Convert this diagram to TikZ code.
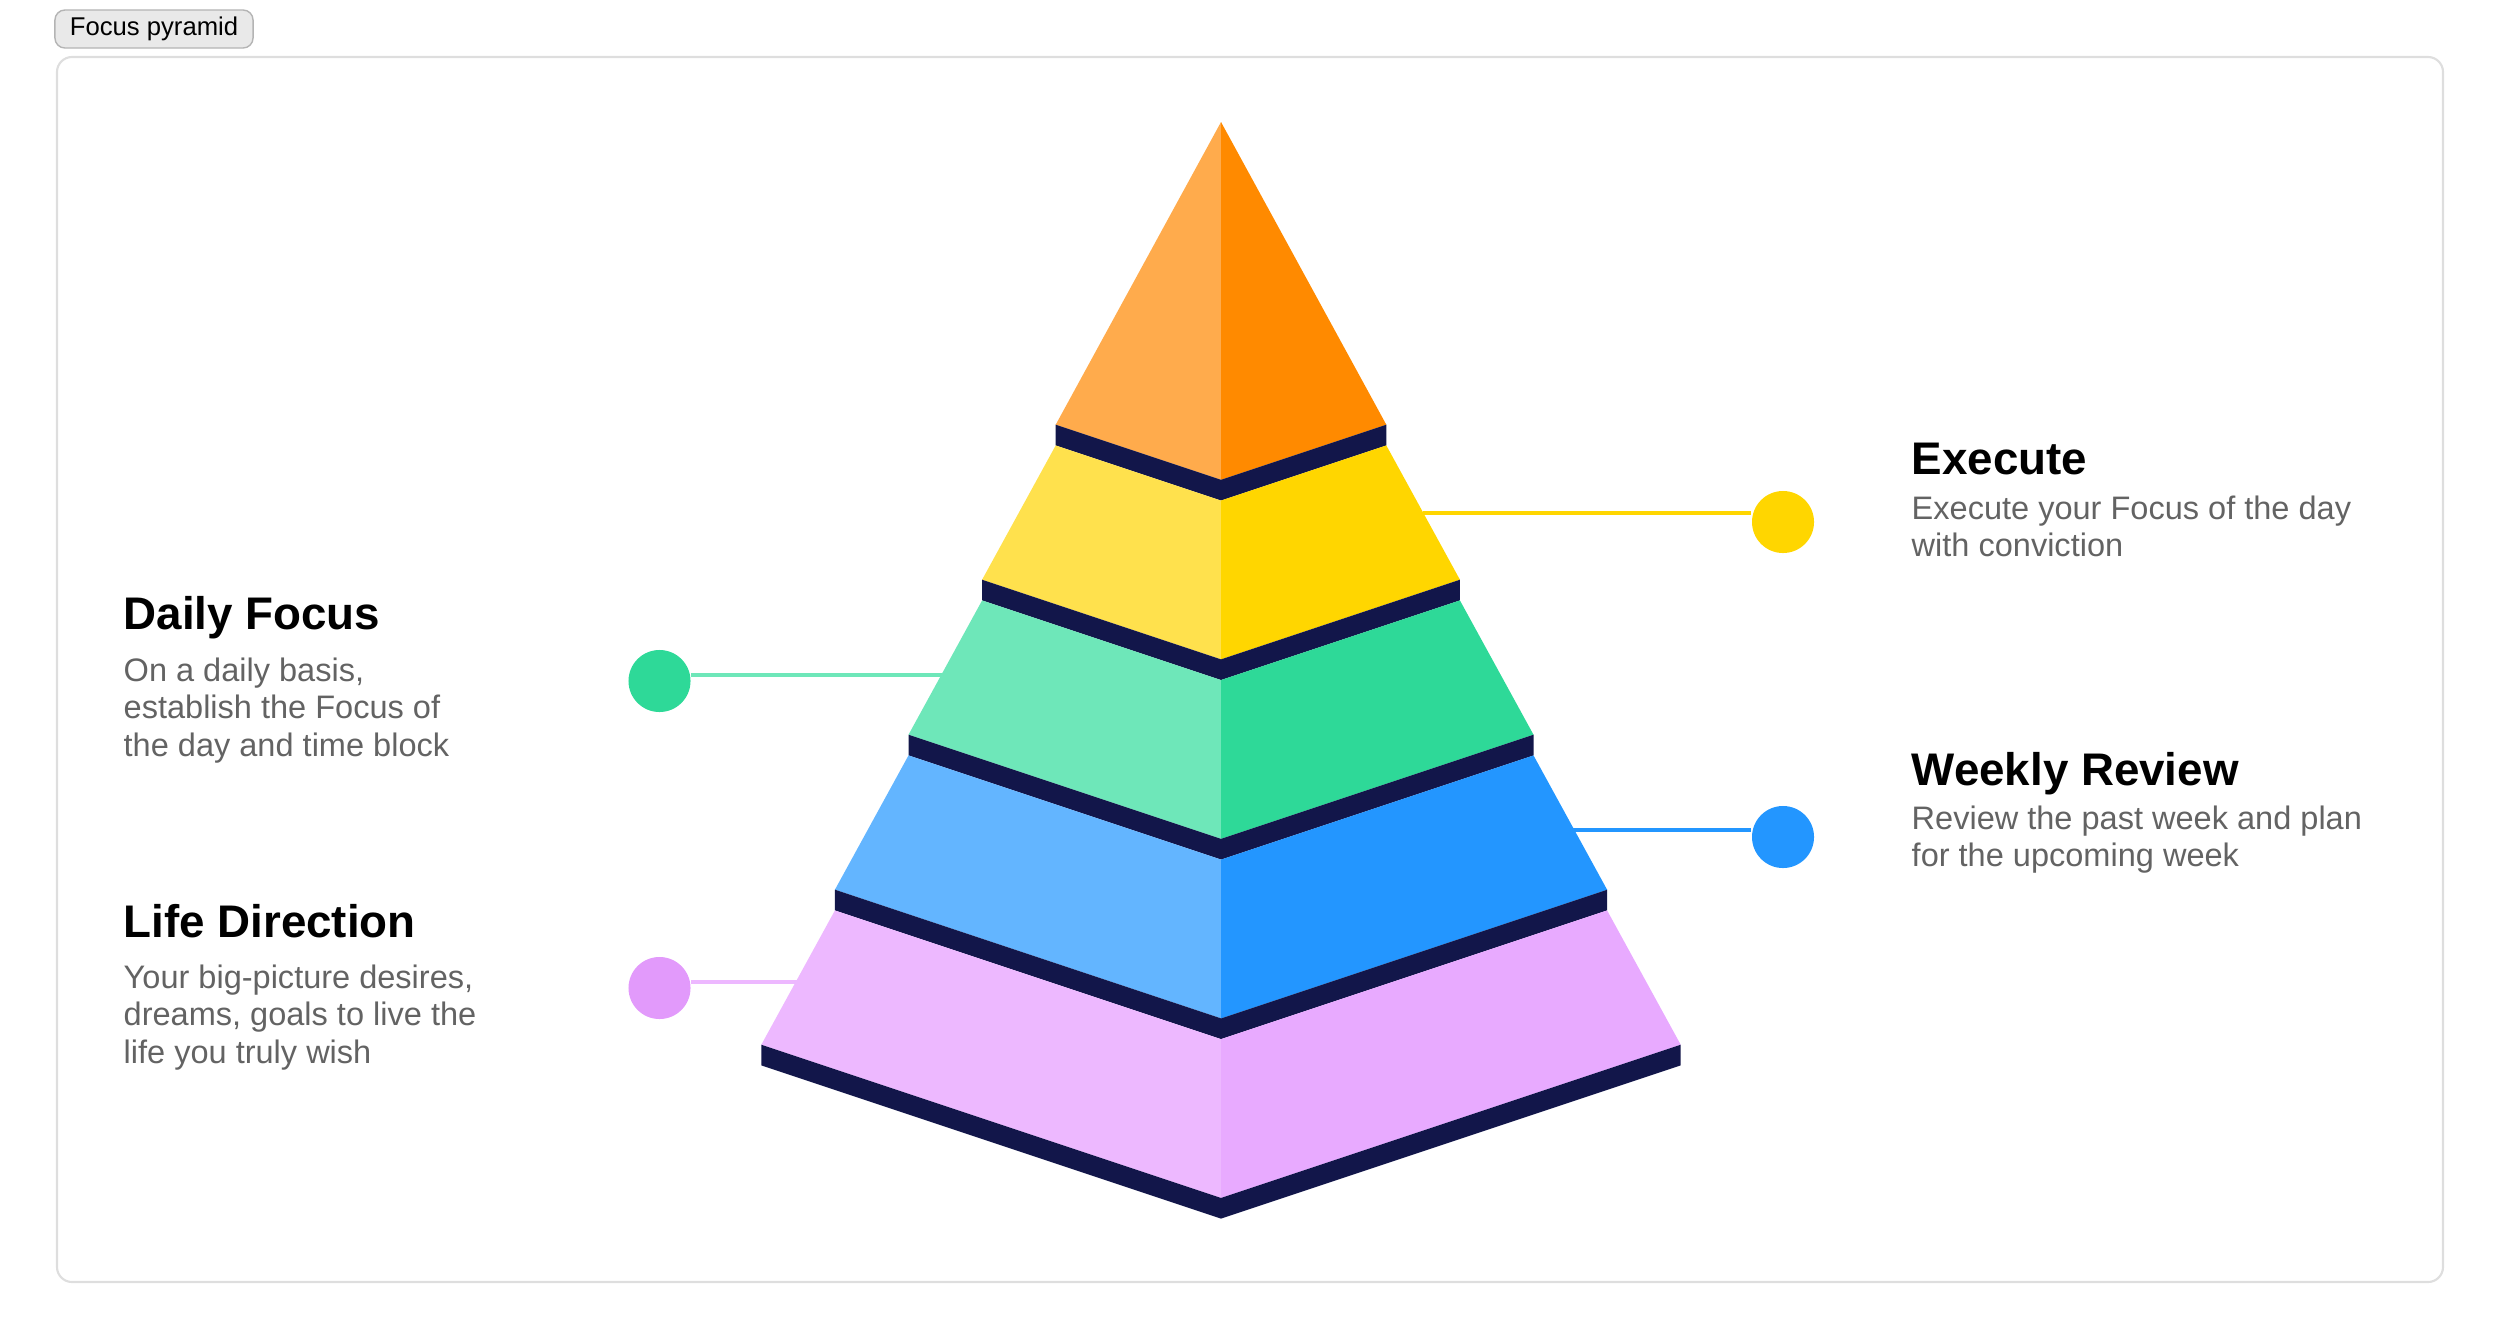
\documentclass[tikz,border=0pt]{standalone}
\usepackage{fontspec}
\setmainfont{Liberation Sans}
\definecolor{orangeL}{HTML}{FFAB4C}
\definecolor{orangeR}{HTML}{FF8A00}
\definecolor{yellowL}{HTML}{FFE14D}
\definecolor{yellowR}{HTML}{FFD600}
\definecolor{greenL}{HTML}{6EE7B9}
\definecolor{greenR}{HTML}{2ED998}
\definecolor{blueL}{HTML}{63B5FF}
\definecolor{blueR}{HTML}{2396FF}
\definecolor{pinkL}{HTML}{EDB8FF}
\definecolor{pinkR}{HTML}{E8AAFF}
\definecolor{pinkdot}{HTML}{E29AFB}
\definecolor{bandnavy}{HTML}{12164A}
\definecolor{textgray}{HTML}{636363}
\definecolor{framegray}{HTML}{DEDEDE}
\definecolor{taggray}{HTML}{B4B4B4}
\definecolor{tagfill}{HTML}{E9E9E9}

\begin{document}
\begin{tikzpicture}[x=0.01cm,y=-0.01cm,
  title/.style={anchor=base west,inner sep=0pt,font=\fontsize{13}{15}\selectfont\bfseries},
  blurb/.style={anchor=base west,inner sep=0pt,align=left,text=textgray,font=\fontsize{9.25}{10.67}\selectfont},
  dot/.style={circle,minimum size=0.62cm,inner sep=0pt,fill=#1},
  link/.style={draw=#1,line width=1.4pt}]
  \useasboundingbox (0,0) rectangle (2500,1339);
  \draw[framegray,line width=0.6pt,rounded corners=0.15cm] (57,57) rectangle (2443,1282);
  \node[draw=taggray,line width=0.4pt,fill=tagfill,rounded corners=0.1cm,minimum width=1.98cm,minimum height=0.38cm,inner sep=0pt,font=\fontsize{7.3}{8}\selectfont] (tag) at (154,29) {Focus pyramid};
  % pyramid layers, top to bottom: top y/half width, bottom y/half width
  \foreach \ya/\wa/\yb/\wb/\cl/\cr in {122/0/424.7/165.3/orangeL/orangeR,
      445.4/165.3/579.7/238.9/yellowL/yellowR, 600.4/238.9/734.7/312.5/greenL/greenR,
      755.4/312.5/889.7/386.1/blueL/blueR, 910.4/386.1/1044.7/459.7/pinkL/pinkR}{
    \fill[\cl] ({1221-\wa},\ya) -- ({1221-\wb},\yb) -- (1221,{\yb+\wb/3}) -- (1221,{\ya+\wa/3}) -- cycle;
    \fill[\cr] ({1221+\wa},\ya) -- ({1221+\wb},\yb) -- (1221,{\yb+\wb/3}) -- (1221,{\ya+\wa/3}) -- cycle;
    \fill[bandnavy] ({1221-\wb},\yb) -- (1221,{\yb+\wb/3}) -- ({1221+\wb},\yb) -- ({1221+\wb},{\yb+20.7})
      -- (1221,{\yb+\wb/3+20.7}) -- ({1221-\wb},{\yb+20.7}) -- cycle;
  }
  \coordinate (edgeExec) at (1423,513);
  \coordinate (edgeWeekly) at (1573,830);
  \coordinate (edgeDaily) at (951,675);
  \coordinate (edgeLife) at (801,982);
  \node[dot=yellowR] (dotExec) at (1783,522) {};
  \node[dot=blueR] (dotWeekly) at (1783,837) {};
  \node[dot=greenR] (dotDaily) at (659.5,681) {};
  \node[dot=pinkdot] (dotLife) at (659.5,988) {};
  \draw[link=yellowR] (edgeExec) -- (dotExec.west |- edgeExec);
  \draw[link=blueR] (edgeWeekly) -- (dotWeekly.west |- edgeWeekly);
  \draw[link=greenL] (dotDaily.east |- edgeDaily) -- (edgeDaily);
  \draw[link=pinkL] (dotLife.east |- edgeLife) -- (edgeLife);
  % texts (blurb base = its last line)
  \node[title] (ttlExec) at (1911,474) {Execute};
  \node[blurb] (subExec) at ([yshift=-0.825cm]ttlExec.base west) {Execute your Focus of the day\\with conviction};
  \node[title] (ttlWeekly) at (1911,785) {Weekly Review};
  \node[blurb] (subWeekly) at ([yshift=-0.815cm]ttlWeekly.base west) {Review the past week and plan\\for the upcoming week};
  \node[title] (ttlDaily) at (123,629) {Daily Focus};
  \node[blurb] (subDaily) at ([yshift=-1.27cm]ttlDaily.base west) {On a daily basis,\\establish the Focus of\\the day and time block};
  \node[title] (ttlLife) at (123,937) {Life Direction};
  \node[blurb] (subLife) at ([yshift=-1.26cm]ttlLife.base west) {Your big-picture desires,\\dreams, goals to live the\\life you truly wish};
\end{tikzpicture}
\end{document}
